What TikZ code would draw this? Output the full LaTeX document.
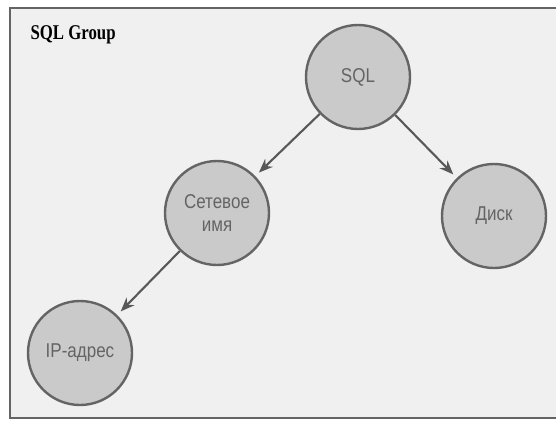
\documentclass[tikz,border=0pt]{standalone}
\usepackage{fontspec}
\setmainfont{Liberation Serif}
\newfontfamily\circfont[FakeStretch=0.85]{Liberation Sans}
\newfontfamily\titlefont[FakeStretch=0.8]{Liberation Serif Bold}
\usetikzlibrary{arrows.meta, positioning}
\definecolor{panelbg}{RGB}{240,240,240}
\definecolor{ballfill}{RGB}{202,202,202}
\definecolor{balledge}{RGB}{100,100,100}
\definecolor{balltext}{RGB}{100,100,100}
\definecolor{arrowgray}{RGB}{88,88,88}
\tikzstyle{ball} = [circle, draw=balledge, line width=2.4pt, fill=ballfill, text=balltext, minimum size=104pt, inner sep=0pt, align=center, font=\circfont\fontsize{20}{23}\selectfont]
\tikzstyle{arrow} = [line width=2.1pt, draw=arrowgray, ->, >={Stealth[length=14pt, width=11pt]}, shorten >=5pt]

\begin{document}
\begin{tikzpicture}[x=1pt, y=-1pt]
        \useasboundingbox (0,0) rectangle (556,422);
        % Panel
        \draw [draw=balledge, line width=1.5pt, fill=panelbg] (10,8) rectangle (562,418);
        \node (title) [anchor=base west, font=\titlefont\fontsize{21}{21}\selectfont] at (27,40) {SQL Group};

        % Nodes (resources)
        \node (sql) [ball] at (358,77) {SQL};
        \node (net) [ball] at (217,213) {Сетевое\\имя};
        \node (disk) [ball] at (494,216) {Диск};
        \node (ip) [ball] at (80,353) {IP-адрес};

        % Dependencies
        \draw [arrow] (sql) -- (net);
        \draw [arrow] (sql) -- (disk);
        \draw [arrow] (net) -- (ip);
    \end{tikzpicture}
\end{document}
